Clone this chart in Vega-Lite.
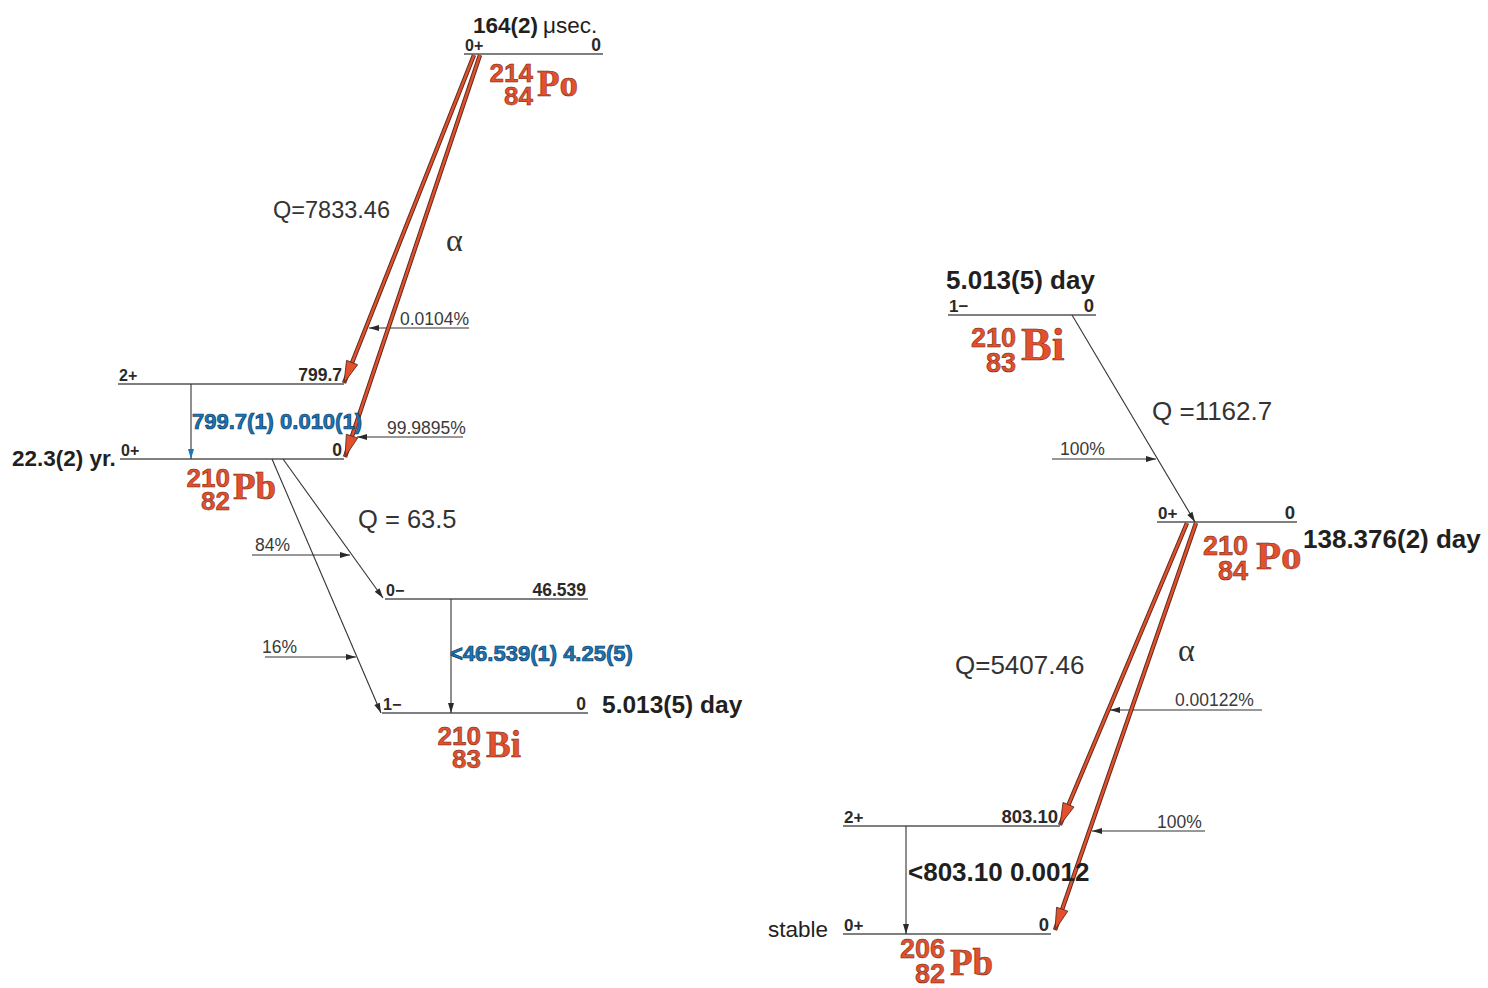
{
  "$schema": "https://vega.github.io/schema/vega-lite/v6.json",
  "width": 1488,
  "height": 988,
  "autosize": "none",
  "padding": 0,
  "background": "white",
  "config": {"view": {"stroke": null}},
  "datasets": {
    "levels": [
      {"nuclide": "214Po", "side": "L", "spin": "0+", "energy": "0", "x": 464, "x2": 603, "y": 54},
      {"nuclide": "210Pb", "side": "L", "spin": "2+", "energy": "799.7", "x": 118, "x2": 344, "y": 384},
      {"nuclide": "210Pb", "side": "L", "spin": "0+", "energy": "0", "x": 120, "x2": 344, "y": 459},
      {"nuclide": "210Bi", "side": "L", "spin": "0−", "energy": "46.539", "x": 385, "x2": 588, "y": 599},
      {"nuclide": "210Bi", "side": "L", "spin": "1−", "energy": "0", "x": 382, "x2": 588, "y": 713},
      {"nuclide": "210Bi", "side": "R", "spin": "1−", "energy": "0", "x": 948, "x2": 1096, "y": 315},
      {"nuclide": "210Po", "side": "R", "spin": "0+", "energy": "0", "x": 1157, "x2": 1297, "y": 522},
      {"nuclide": "206Pb", "side": "R", "spin": "2+", "energy": "803.10", "x": 843, "x2": 1060, "y": 826},
      {"nuclide": "206Pb", "side": "R", "spin": "0+", "energy": "0", "x": 843, "x2": 1051, "y": 934}
    ],
    "arrows": [
      {"id": "a1", "kind": "alpha", "x": 474, "y": 55, "x2": 344, "y2": 383},
      {"id": "a2", "kind": "alpha", "x": 480, "y": 55, "x2": 345, "y2": 457},
      {"id": "a3", "kind": "alpha", "x": 1187, "y": 523, "x2": 1060, "y2": 825},
      {"id": "a4", "kind": "alpha", "x": 1196, "y": 523, "x2": 1055, "y2": 930},
      {"id": "b1", "kind": "beta", "x": 272, "y": 459, "x2": 381, "y2": 713},
      {"id": "b2", "kind": "beta", "x": 283, "y": 459, "x2": 383, "y2": 598},
      {"id": "b3", "kind": "beta", "x": 1072, "y": 315, "x2": 1195, "y2": 522},
      {"id": "f1", "kind": "feeder", "x": 469, "y": 328, "x2": 369, "y2": 328},
      {"id": "f2", "kind": "feeder", "x": 463, "y": 437, "x2": 357, "y2": 437},
      {"id": "f3", "kind": "feeder", "x": 252, "y": 555, "x2": 350, "y2": 555},
      {"id": "f4", "kind": "feeder", "x": 265, "y": 657, "x2": 356, "y2": 657},
      {"id": "f5", "kind": "feeder", "x": 1052, "y": 459, "x2": 1156, "y2": 459},
      {"id": "f6", "kind": "feeder", "x": 1262, "y": 710, "x2": 1110, "y2": 710},
      {"id": "f7", "kind": "feeder", "x": 1205, "y": 831, "x2": 1092, "y2": 831},
      {"id": "g1", "kind": "gamma", "x": 191, "y": 384, "x2": 191, "y2": 459},
      {"id": "g2", "kind": "gamma", "x": 451, "y": 599, "x2": 451, "y2": 713},
      {"id": "g3", "kind": "gamma", "x": 906, "y": 826, "x2": 906, "y2": 934}
    ],
    "texts": [
      {"role": "halflife", "side": "L", "text": "164(2)", "x": 473, "y": 33},
      {"role": "halflife", "side": "L", "text": "22.3(2) yr.", "x": 12, "y": 466},
      {"role": "halflife", "side": "L", "text": "5.013(5) day", "x": 602, "y": 713},
      {"role": "halflife", "side": "R", "text": "5.013(5) day", "x": 946, "y": 289},
      {"role": "halflife", "side": "R", "text": "138.376(2) day", "x": 1303, "y": 548},
      {"role": "note", "side": "L", "text": "μsec.", "x": 543, "y": 33},
      {"role": "note", "side": "R", "text": "stable", "x": 768, "y": 937},
      {"role": "branch", "side": "L", "text": "0.0104%", "x": 400, "y": 325},
      {"role": "branch", "side": "L", "text": "99.9895%", "x": 387, "y": 434},
      {"role": "branch", "side": "L", "text": "84%", "x": 255, "y": 551},
      {"role": "branch", "side": "L", "text": "16%", "x": 262, "y": 653},
      {"role": "branch", "side": "R", "text": "100%", "x": 1060, "y": 455},
      {"role": "branch", "side": "R", "text": "0.00122%", "x": 1175, "y": 706},
      {"role": "branch", "side": "R", "text": "100%", "x": 1157, "y": 828},
      {"role": "q", "side": "L", "text": "Q=7833.46", "x": 273, "y": 218},
      {"role": "q", "side": "L", "text": "Q = 63.5", "x": 358, "y": 528},
      {"role": "q", "side": "R", "text": "Q =1162.7", "x": 1152, "y": 420},
      {"role": "q", "side": "R", "text": "Q=5407.46", "x": 955, "y": 674},
      {"role": "alpha", "side": "L", "text": "α", "x": 446, "y": 251},
      {"role": "alpha", "side": "R", "text": "α", "x": 1178, "y": 661},
      {"role": "gamma_blue", "side": "L", "text": "799.7(1) 0.010(1)", "x": 192, "y": 429},
      {"role": "gamma_blue", "side": "L", "text": "<46.539(1) 4.25(5)", "x": 450, "y": 661},
      {"role": "gamma_dark", "side": "R", "text": "<803.10 0.0012", "x": 908, "y": 881},
      {"role": "nucnum", "side": "L", "text": "214\n84", "x": 533, "y": 82},
      {"role": "nucnum", "side": "L", "text": "210\n82", "x": 230, "y": 487},
      {"role": "nucnum", "side": "L", "text": "210\n83", "x": 481, "y": 745},
      {"role": "nucnum", "side": "R", "text": "210\n83", "x": 1016, "y": 347},
      {"role": "nucnum", "side": "R", "text": "210\n84", "x": 1248, "y": 555},
      {"role": "nucnum", "side": "R", "text": "206\n82", "x": 945, "y": 958},
      {"role": "symbol", "side": "L", "text": "Po", "x": 537, "y": 96},
      {"role": "symbol", "side": "L", "text": "Pb", "x": 233, "y": 499},
      {"role": "symbol", "side": "L", "text": "Bi", "x": 486, "y": 757},
      {"role": "symbol", "side": "R", "text": "Bi", "x": 1021, "y": 360},
      {"role": "symbol", "side": "R", "text": "Po", "x": 1256, "y": 569},
      {"role": "symbol", "side": "R", "text": "Pb", "x": 950, "y": 975}
    ]
  },
  "encoding": {
    "x": {"field": "x", "type": "quantitative", "scale": {"domain": [0, 1488], "nice": false, "zero": false}, "axis": null},
    "y": {"field": "y", "type": "quantitative", "scale": {"domain": [0, 988], "nice": false, "zero": false, "reverse": true}, "axis": null}
  },
  "layer": [
    {
      "data": {"name": "levels"},
      "mark": {"type": "rule", "stroke": "#555555", "strokeWidth": 1.6},
      "encoding": {"x2": {"field": "x2"}}
    },
    {
      "data": {"name": "levels"},
      "mark": {"type": "text", "align": "left", "baseline": "alphabetic", "dx": 1, "dy": -3, "font": "Liberation Sans", "fontWeight": "bold", "fill": "#2a2a2a"},
      "encoding": {"text": {"field": "spin"}, "size": {"condition": {"test": "datum.side === 'R'", "value": 17}, "value": 16}}
    },
    {
      "data": {"name": "levels"},
      "mark": {"type": "text", "align": "right", "baseline": "alphabetic", "dx": -2, "dy": -3, "font": "Liberation Sans", "fontWeight": "bold", "fill": "#2a2a2a"},
      "encoding": {
        "x": {"field": "x2", "type": "quantitative", "scale": {"domain": [0, 1488], "nice": false, "zero": false}, "axis": null},
        "text": {"field": "energy"},
        "size": {"condition": {"test": "datum.side === 'R'", "value": 18.5}, "value": 17.5}
      }
    },
    {
      "data": {"name": "arrows"},
      "transform": [{"filter": "datum.kind !== 'alpha'"}],
      "mark": {"type": "rule", "stroke": "#333333", "strokeWidth": 1.1},
      "encoding": {"x2": {"field": "x2"}, "y2": {"field": "y2"}}
    },
    {
      "data": {"name": "arrows"},
      "transform": [{"filter": "datum.kind === 'alpha'"}],
      "mark": {"type": "rule", "stroke": "#5a2a1c", "strokeWidth": 4.4},
      "encoding": {"x2": {"field": "x2"}, "y2": {"field": "y2"}}
    },
    {
      "data": {"name": "arrows"},
      "transform": [{"filter": "datum.kind === 'alpha'"}],
      "mark": {"type": "rule", "stroke": "#e2502e", "strokeWidth": 2.4},
      "encoding": {"x2": {"field": "x2"}, "y2": {"field": "y2"}}
    },
    {
      "data": {"name": "arrows"},
      "transform": [{"filter": "datum.kind === 'alpha'"}],
      "mark": {"type": "point", "shape": "M0,0L-0.27,-1L0.27,-1Z", "filled": true, "size": 1936, "fill": "#e2502e", "stroke": "#5a2a1c", "strokeWidth": 0.8, "opacity": 1},
      "encoding": {
        "x": {"field": "x2", "type": "quantitative", "scale": {"domain": [0, 1488], "nice": false, "zero": false}, "axis": null},
        "y": {"field": "y2", "type": "quantitative", "scale": {"domain": [0, 988], "nice": false, "zero": false, "reverse": true}, "axis": null},
        "angle": {"condition": [
          {"test": "datum.id === 'a1'", "value": 21.6},
          {"test": "datum.id === 'a2'", "value": 18.6},
          {"test": "datum.id === 'a3'", "value": 22.8}
        ], "value": 19.1}
      }
    },
    {
      "data": {"name": "arrows"},
      "transform": [{"filter": "datum.kind !== 'alpha'"}],
      "mark": {"type": "point", "shape": "M0,0L-0.3,-1L0.3,-1Z", "filled": true, "size": 400, "strokeWidth": 0, "opacity": 1},
      "encoding": {
        "x": {"field": "x2", "type": "quantitative", "scale": {"domain": [0, 1488], "nice": false, "zero": false}, "axis": null},
        "y": {"field": "y2", "type": "quantitative", "scale": {"domain": [0, 988], "nice": false, "zero": false, "reverse": true}, "axis": null},
        "angle": {"condition": [
          {"test": "datum.id === 'b1'", "value": -23.2},
          {"test": "datum.id === 'b2'", "value": -35.7},
          {"test": "datum.id === 'b3'", "value": -30.7},
          {"test": "datum.kind === 'feeder' && datum.x2 < datum.x", "value": 90},
          {"test": "datum.kind === 'feeder' && datum.x2 > datum.x", "value": -90}
        ], "value": 0},
        "fill": {"condition": {"test": "datum.id === 'g1'", "value": "#1b75b9"}, "value": "#2a2a2a"}
      }
    },
    {
      "data": {"name": "texts"},
      "transform": [{"filter": "datum.role === 'halflife'"}],
      "mark": {"type": "text", "align": "left", "baseline": "alphabetic", "font": "Liberation Sans", "fontWeight": "bold", "fill": "#231f20"},
      "encoding": {"text": {"field": "text"}, "size": {"condition": [
        {"test": "datum.side === 'R'", "value": 26},
        {"test": "datum.text === '5.013(5) day'", "value": 24.5}
      ], "value": 22.5}}
    },
    {
      "data": {"name": "texts"},
      "transform": [{"filter": "datum.role === 'note'"}],
      "mark": {"type": "text", "align": "left", "baseline": "alphabetic", "font": "Liberation Sans", "fontSize": 22.5, "fill": "#231f20"},
      "encoding": {"text": {"field": "text"}}
    },
    {
      "data": {"name": "texts"},
      "transform": [{"filter": "datum.role === 'branch'"}],
      "mark": {"type": "text", "align": "left", "baseline": "alphabetic", "font": "Liberation Sans", "fontSize": 17.5, "fill": "#3a3a3a"},
      "encoding": {"text": {"field": "text"}}
    },
    {
      "data": {"name": "texts"},
      "transform": [{"filter": "datum.role === 'q'"}],
      "mark": {"type": "text", "align": "left", "baseline": "alphabetic", "font": "Liberation Sans", "fill": "#333333"},
      "encoding": {"text": {"field": "text"}, "size": {"condition": [
        {"test": "datum.side === 'R'", "value": 26},
        {"test": "datum.text === 'Q = 63.5'", "value": 25.5}
      ], "value": 23.5}}
    },
    {
      "data": {"name": "texts"},
      "transform": [{"filter": "datum.role === 'alpha'"}],
      "mark": {"type": "text", "align": "left", "baseline": "alphabetic", "font": "Liberation Serif", "fontSize": 32, "fill": "#333333"},
      "encoding": {"text": {"field": "text"}}
    },
    {
      "data": {"name": "texts"},
      "transform": [{"filter": "datum.role === 'gamma_blue'"}],
      "mark": {"type": "text", "align": "left", "baseline": "alphabetic", "font": "Liberation Sans", "fontWeight": "bold", "fontSize": 22, "fill": "#1b75b9", "stroke": "#0b3c63", "strokeWidth": 0.7},
      "encoding": {"text": {"field": "text"}}
    },
    {
      "data": {"name": "texts"},
      "transform": [{"filter": "datum.role === 'gamma_dark'"}],
      "mark": {"type": "text", "align": "left", "baseline": "alphabetic", "font": "Liberation Sans", "fontWeight": "bold", "fontSize": 26, "fill": "#231f20"},
      "encoding": {"text": {"field": "text"}}
    },
    {
      "data": {"name": "texts"},
      "transform": [{"filter": "datum.role === 'nucnum' && datum.side === 'L'"}],
      "mark": {"type": "text", "align": "right", "baseline": "alphabetic", "lineBreak": "\n", "lineHeight": 22.5, "font": "Liberation Sans", "fontWeight": "bold", "fontSize": 26, "fill": "#e2502e", "stroke": "#6b1f0e", "strokeWidth": 0.5},
      "encoding": {"text": {"field": "text"}}
    },
    {
      "data": {"name": "texts"},
      "transform": [{"filter": "datum.role === 'nucnum' && datum.side === 'R'"}],
      "mark": {"type": "text", "align": "right", "baseline": "alphabetic", "lineBreak": "\n", "lineHeight": 24.5, "font": "Liberation Sans", "fontWeight": "bold", "fontSize": 27, "fill": "#e2502e", "stroke": "#6b1f0e", "strokeWidth": 0.5},
      "encoding": {"text": {"field": "text"}}
    },
    {
      "data": {"name": "texts"},
      "transform": [{"filter": "datum.role === 'symbol'"}],
      "mark": {"type": "text", "align": "left", "baseline": "alphabetic", "font": "Liberation Serif", "fontWeight": "bold", "fill": "#e2502e", "stroke": "#6b1f0e", "strokeWidth": 0.5},
      "encoding": {"text": {"field": "text"}, "size": {"condition": [
        {"test": "datum.side === 'R' && datum.text === 'Bi'", "value": 46},
        {"test": "datum.side === 'R' && datum.text === 'Pb'", "value": 37},
        {"test": "datum.side === 'R'", "value": 41}
      ], "value": 37}}
    }
  ]
}
